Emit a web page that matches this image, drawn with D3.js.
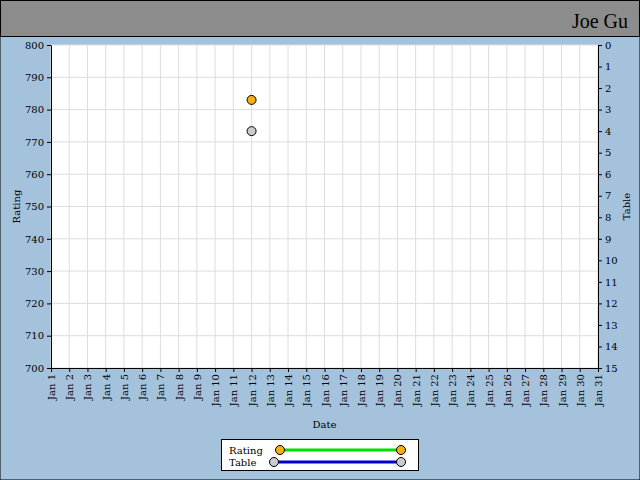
<!DOCTYPE html>
<html><head><meta charset="utf-8">
<script src="https://cdn.jsdelivr.net/npm/d3@7"></script>
<style>body{margin:0}svg{display:block}text{font-family:"DejaVu Serif",serif;font-size:10px}</style>
</head><body><div id="chart"></div>
<script>
// data
let days = d3.range(1, 32).map(d => "Jan " + d);
let ratingPoints = [{day: 12, value: 783}];
let tablePoints = [{day: 12, value: 4}];
let legendItems = ["Rating", "Table"];

const W = 640, H = 480;
const m = {left: 51, right: 598, top: 45, bottom: 368};

const svg = d3.select("#chart").append("svg").attr("width", W).attr("height", H);
svg.append("rect").attr("width", W).attr("height", H).attr("fill", "#a4c2dc").attr("stroke", "#000");
svg.append("rect").attr("x", 0.5).attr("y", 0.5).attr("width", W - 1).attr("height", 36).attr("fill", "#8c8c8c").attr("stroke", "#000");
svg.append("text").attr("x", 628).attr("y", 28).attr("text-anchor", "end")
    .style("font-family", "'Comic Sans MS', cursive").style("font-size", "20px").text("Joe Gu");

let x = d3.scaleLinear().domain([1, 31]).range([m.left, m.right]);
let y = d3.scaleLinear().domain([700, 800]).range([m.bottom, m.top]);
let y2 = d3.scaleLinear().domain([15, 0]).range([m.bottom, m.top]);

svg.append("rect").attr("x", m.left).attr("y", m.top).attr("width", m.right - m.left).attr("height", m.bottom - m.top).attr("fill", "#fff");

// grid
svg.append("g").selectAll("line").data(d3.range(1, 32)).join("line")
    .attr("x1", d => x(d)).attr("x2", d => x(d)).attr("y1", m.top).attr("y2", m.bottom)
    .attr("stroke", "#ddd");
svg.append("g").selectAll("line").data(d3.range(700, 801, 10)).join("line")
    .attr("x1", m.left).attr("x2", m.right).attr("y1", d => y(d)).attr("y2", d => y(d))
    .attr("stroke", "#ddd");

svg.append("g").attr("transform", `translate(${m.left},0)`)
    .call(d3.axisLeft(y).ticks(10).tickSize(4).tickSizeOuter(0));
svg.append("g").attr("transform", `translate(${m.right},0)`)
    .call(d3.axisRight(y2).ticks(15).tickSize(4).tickSizeOuter(0));
let xa = svg.append("g").attr("transform", `translate(0,${m.bottom})`)
    .call(d3.axisBottom(x).tickValues(d3.range(1, 32)).tickFormat(d => days[d - 1]).tickSize(4).tickSizeOuter(0));
xa.selectAll("text").attr("transform", "rotate(-90)").attr("text-anchor", "end")
    .attr("x", -6).attr("y", 0).attr("dy", "0.35em");
svg.selectAll(".domain").attr("stroke", "#000");

svg.append("text").attr("x", (m.left + m.right) / 2).attr("y", 428).attr("text-anchor", "middle").text("Date");
svg.append("text").attr("transform", `translate(20,${(m.top + m.bottom) / 2}) rotate(-90)`).attr("text-anchor", "middle").text("Rating");
svg.append("text").attr("transform", `translate(630,${(m.top + m.bottom) / 2}) rotate(-90)`).attr("text-anchor", "middle").text("Table");

// points
svg.selectAll(".rp").data(ratingPoints).join("circle").attr("class", "rp")
    .attr("cx", d => x(d.day)).attr("cy", d => y(d.value)).attr("r", 4.5)
    .attr("fill", "#f8b010").attr("stroke", "#000");
svg.selectAll(".tp").data(tablePoints).join("circle").attr("class", "tp")
    .attr("cx", d => x(d.day)).attr("cy", d => y2(d.value)).attr("r", 4.5)
    .attr("fill", "#cccccc").attr("stroke", "#000");

// legend
const lg = svg.append("g");
lg.append("rect").attr("x", 221.5).attr("y", 439.5).attr("width", 197).attr("height", 31).attr("fill", "#fff").attr("stroke", "#000");
const lcol = [["#00e000", "#f8b010", 280], ["#0000d0", "#cccccc", 274]];
legendItems.forEach((t, i) => {
    let yy = 450 + i * 12;
    lg.append("text").attr("x", 229).attr("y", yy + 4).text(t);
    lg.append("line").attr("x1", lcol[i][2]).attr("x2", 401).attr("y1", yy).attr("y2", yy).attr("stroke", lcol[i][0]).attr("stroke-width", 3);
    [lcol[i][2], 401].forEach(cx => lg.append("circle").attr("cx", cx).attr("cy", yy).attr("r", 4.5).attr("fill", lcol[i][1]).attr("stroke", "#000"));
});
</script></body></html>
